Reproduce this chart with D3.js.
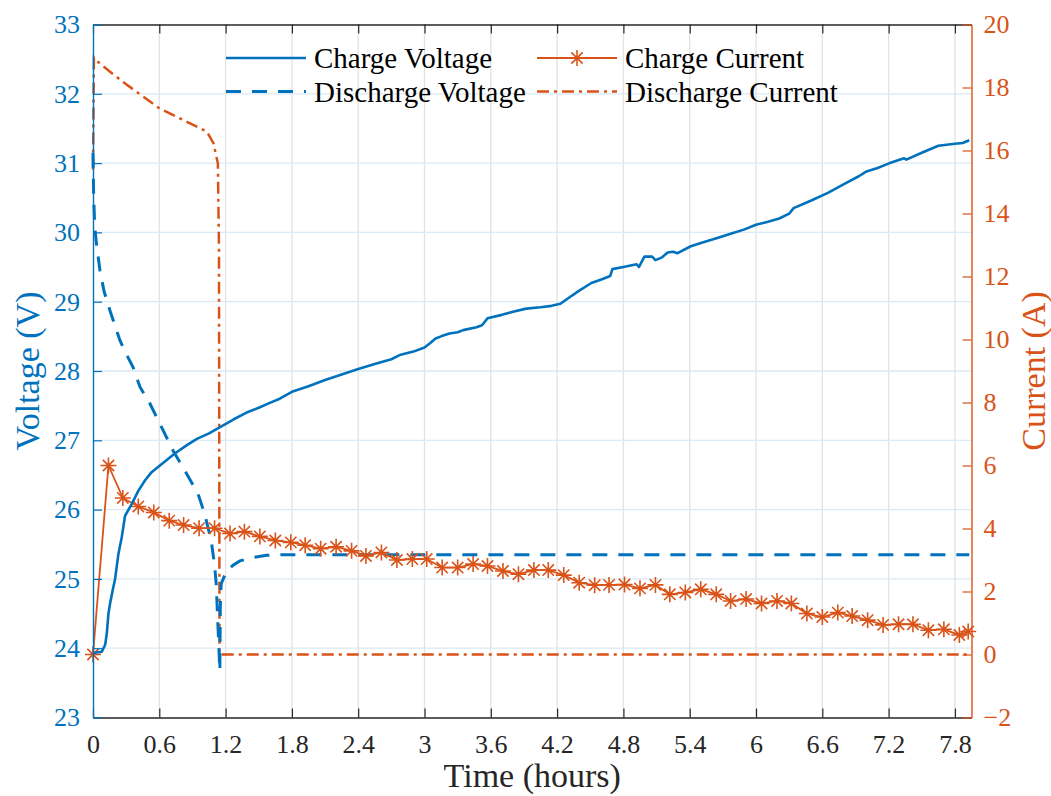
<!DOCTYPE html>
<html>
<head>
<meta charset="utf-8">
<script src="https://cdn.jsdelivr.net/npm/d3@7"></script>
<style>
  body { margin: 0; background: #fff; }
  svg { display: block; }
  svg text { font-family: "Liberation Serif", "DejaVu Serif", serif !important; }
</style>
</head>
<body>
<svg id="chart" width="1051" height="796"></svg>
<script>
// ---- Data -------------------------------------------------------------
// [time (h), voltage (V)]
const chargeVoltage = [
  [0,23.93],[0.08,23.95],[0.11,24.05],[0.124,24.2],[0.14,24.5],[0.154,24.64],[0.18,24.85],
  [0.2,25.0],[0.23,25.36],[0.26,25.6],[0.29,25.91],[0.35,26.08],[0.41,26.27],[0.47,26.42],
  [0.53,26.54],[0.6,26.63],[0.74,26.81],[0.85,26.93],[0.94,27.02],[1.05,27.1],[1.15,27.19],
  [1.27,27.3],[1.39,27.4],[1.5,27.47],[1.6,27.54],[1.69,27.6],[1.8,27.7],[1.95,27.78],
  [2.1,27.87],[2.25,27.95],[2.4,28.03],[2.55,28.1],[2.7,28.17],[2.775,28.23],[2.9,28.28],
  [3.0,28.34],[3.05,28.4],[3.1,28.47],[3.15,28.5],[3.225,28.54],[3.3,28.56],[3.35,28.59],
  [3.47,28.63],[3.52,28.66],[3.57,28.76],[3.7,28.81],[3.81,28.86],[3.92,28.9],[4.05,28.92],
  [4.15,28.94],[4.23,28.97],[4.3,29.05],[4.4,29.16],[4.51,29.27],[4.6,29.32],[4.68,29.37],
  [4.7,29.47],[4.8,29.5],[4.92,29.54],[4.94,29.5],[4.99,29.65],[5.06,29.65],[5.09,29.6],
  [5.15,29.64],[5.2,29.71],[5.25,29.72],[5.29,29.7],[5.41,29.8],[5.53,29.86],[5.65,29.92],
  [5.77,29.98],[5.89,30.04],[6.0,30.11],[6.1,30.15],[6.21,30.2],[6.3,30.27],[6.34,30.35],
  [6.5,30.46],[6.65,30.57],[6.8,30.7],[6.93,30.81],[7.0,30.88],[7.1,30.93],[7.21,31.0],
  [7.34,31.07],[7.36,31.05],[7.5,31.15],[7.65,31.25],[7.8,31.28],[7.87,31.29],[7.93,31.33]
];
const dischargeVoltage = [
  [0,31.15],[0.005,30.6],[0.015,30.1],[0.03,29.85],[0.063,29.45],[0.1,29.15],[0.154,28.87],
  [0.2,28.65],[0.244,28.44],[0.3,28.25],[0.364,28.05],[0.425,27.77],[0.47,27.65],[0.515,27.53],
  [0.62,27.19],[0.725,26.85],[0.78,26.7],[0.846,26.52],[0.95,26.23],[1.01,25.94],[1.07,25.55],
  [1.1,25.2],[1.115,24.93],[1.13,24.35],[1.148,23.67],[1.152,24.6],[1.16,24.93],[1.21,25.12],
  [1.27,25.2],[1.33,25.26],[1.45,25.31],[1.57,25.34],[1.7,25.35],[7.93,25.35]
];
// [time (h), current (A)]
const dischargeCurrent = [
  [0,15.4],[0.008,18.95],[0.05,18.8],[0.154,18.5],[0.3,18.1],[0.455,17.71],[0.6,17.34],
  [0.85,16.91],[1.03,16.6],[1.09,16.23],[1.13,15.59],[1.14,12.9],[1.145,0],[7.93,0]
];
// charge current, sampled times (h) and values (A)
const chargeCurrentTime = [
  0,0.14,0.27,0.41,0.55,0.69,0.82,0.96,1.10,1.24,1.37,1.51,1.65,1.79,1.92,2.06,2.20,2.34,2.47,
  2.61,2.75,2.89,3.02,3.16,3.30,3.44,3.57,3.71,3.85,3.99,4.12,4.26,4.40,4.54,4.67,4.81,4.95,
  5.09,5.22,5.36,5.50,5.64,5.77,5.91,6.05,6.19,6.32,6.46,6.60,6.74,6.87,7.01,7.15,7.29,7.42,
  7.56,7.70,7.84,7.92
];
const chargeCurrent = [
  0.0,6.0,4.97,4.70,4.51,4.25,4.11,4.01,4.01,3.84,3.90,3.75,3.62,3.56,3.47,3.36,3.42,3.29,3.13,
  3.24,3.00,3.03,3.03,2.76,2.76,2.87,2.81,2.65,2.55,2.68,2.68,2.52,2.28,2.20,2.21,2.22,2.10,
  2.21,1.91,1.97,2.07,1.91,1.70,1.76,1.62,1.70,1.62,1.30,1.19,1.33,1.22,1.09,0.94,0.96,0.96,
  0.77,0.80,0.62,0.73
];

const xTicks = [0,0.6,1.2,1.8,2.4,3,3.6,4.2,4.8,5.4,6,6.6,7.2,7.8];
const xTickLabels = ["0","0.6","1.2","1.8","2.4","3","3.6","4.2","4.8","5.4","6","6.6","7.2","7.8"];
const voltTicks = [23,24,25,26,27,28,29,30,31,32,33];
const currTicks = [-2,0,2,4,6,8,10,12,14,16,18,20];
const legendLabels = ["Charge Voltage","Discharge Voltage","Charge Current","Discharge Current"];

// ---- Layout -----------------------------------------------------------
const BLUE = "#0072BD", ORANGE = "#D95319", DARK = "#262626";
const FONT = '"Liberation Serif", "DejaVu Serif", serif';
const DASHDOT = "12,5,3,5";
const L = 93, R = 971.5, T = 24.5, B = 717.5;
const svg = d3.select("#chart");

const x = d3.scaleLinear().domain([0, 7.95]).range([L, R]);
const yV = d3.scaleLinear().domain([23, 33]).range([B, T]);
const yI = d3.scaleLinear().domain([-2, 20]).range([B, T]);

// ---- Grid -------------------------------------------------------------
const grid = svg.append("g");
grid.selectAll("line.vx").data(xTicks.slice(1)).join("line")
  .attr("x1", d => x(d)).attr("x2", d => x(d)).attr("y1", T).attr("y2", B)
  .attr("stroke", "#e2e2e2").attr("stroke-width", 1.3);
grid.selectAll("line.hy").data(voltTicks.slice(1, -1)).join("line")
  .attr("x1", L).attr("x2", R).attr("y1", d => yV(d)).attr("y2", d => yV(d))
  .attr("stroke", "#dae9f5").attr("stroke-width", 1.3);

// ---- Series -----------------------------------------------------------
const lineV = d3.line().x(d => x(d[0])).y(d => yV(d[1]));
const lineI = d3.line().x(d => x(d[0])).y(d => yI(d[1]));

svg.append("path").datum(dischargeCurrent).attr("d", lineI)
  .attr("fill", "none").attr("stroke", ORANGE).attr("stroke-width", 2.5)
  .attr("stroke-dasharray", DASHDOT);

svg.append("path").datum(dischargeVoltage).attr("d", lineV)
  .attr("fill", "none").attr("stroke", BLUE).attr("stroke-width", 3)
  .attr("stroke-dasharray", "15,11");

const ccPts = chargeCurrentTime.map((t, i) => [t, chargeCurrent[i]]);
svg.append("path").datum(ccPts).attr("d", lineI)
  .attr("fill", "none").attr("stroke", ORANGE).attr("stroke-width", 1.8);

const star = r => {
  const a = r * 0.7071;
  return `M${-r},0L${r},0M0,${-r}L0,${r}M${-a},${-a}L${a},${a}M${-a},${a}L${a},${-a}`;
};
svg.append("g").selectAll("path").data(ccPts).join("path")
  .attr("transform", d => `translate(${x(d[0])},${yI(d[1])})`)
  .attr("d", star(8)).attr("fill", "none").attr("stroke", ORANGE).attr("stroke-width", 1.6);

svg.append("path").datum(chargeVoltage).attr("d", lineV)
  .attr("fill", "none").attr("stroke", BLUE).attr("stroke-width", 2.6)
  .attr("stroke-linejoin", "round");

// ---- Axes -------------------------------------------------------------
const tickLen = -9;
const gB = svg.append("g").attr("transform", `translate(0,${B})`)
  .call(d3.axisBottom(x).tickValues(xTicks).tickFormat((d, i) => xTickLabels[i])
    .tickSizeInner(tickLen).tickSizeOuter(0).tickPadding(17));
const gT = svg.append("g").attr("transform", `translate(0,${T})`)
  .call(d3.axisTop(x).tickValues(xTicks).tickFormat("")
    .tickSizeInner(tickLen).tickSizeOuter(0));
[gB, gT].forEach(g => {
  g.attr("font-family", FONT);
  g.select(".domain").attr("stroke", DARK).attr("stroke-width", 1.3);
  g.selectAll(".tick line").attr("stroke", DARK).attr("stroke-width", 1.2);
  g.selectAll(".tick text").attr("fill", DARK).attr("font-size", 26);
});

const gL = svg.append("g").attr("transform", `translate(${L},0)`)
  .call(d3.axisLeft(yV).tickValues(voltTicks).tickFormat(d3.format("d"))
    .tickSizeInner(tickLen).tickSizeOuter(0).tickPadding(13));
const gR = svg.append("g").attr("transform", `translate(${R},0)`)
  .call(d3.axisRight(yI).tickValues(currTicks).tickFormat(d3.format("d"))
    .tickSizeInner(tickLen).tickSizeOuter(0).tickPadding(12));
[[gL, BLUE], [gR, ORANGE]].forEach(([g, c]) => {
  g.attr("font-family", FONT);
  g.select(".domain").attr("stroke", c).attr("stroke-width", 1.4);
  g.selectAll(".tick line").attr("stroke", c).attr("stroke-width", 1.2);
  g.selectAll(".tick text").attr("fill", c).attr("font-size", 26);
});

// ---- Axis titles ------------------------------------------------------
svg.append("text").attr("x", (L + R) / 2).attr("y", 787)
  .attr("text-anchor", "middle").attr("font-size", 34).attr("fill", DARK)
  .attr("font-family", FONT).text("Time (hours)");
svg.append("text").attr("transform", `translate(39,${(T + B) / 2}) rotate(-90)`)
  .attr("text-anchor", "middle").attr("font-size", 34).attr("fill", BLUE)
  .attr("font-family", FONT).text("Voltage (V)");
svg.append("text").attr("transform", `translate(1045,${(T + B) / 2}) rotate(-90)`)
  .attr("text-anchor", "middle").attr("font-size", 34).attr("fill", ORANGE)
  .attr("font-family", FONT).text("Current (A)");

// ---- Legend -----------------------------------------------------------
const legendItems = [
  { label: legendLabels[0], x0: 226, x1: 306, y: 58, color: BLUE, width: 2.6, dash: null, marker: false },
  { label: legendLabels[1], x0: 226, x1: 306, y: 91.5, color: BLUE, width: 3, dash: "15,11", marker: false },
  { label: legendLabels[2], x0: 537, x1: 617, y: 58, color: ORANGE, width: 1.8, dash: null, marker: true },
  { label: legendLabels[3], x0: 537, x1: 617, y: 91.5, color: ORANGE, width: 2.5, dash: DASHDOT, marker: false }
];
const lg = svg.append("g").selectAll("g").data(legendItems).join("g");
lg.append("line").attr("x1", d => d.x0).attr("x2", d => d.x1)
  .attr("y1", d => d.y).attr("y2", d => d.y)
  .attr("stroke", d => d.color).attr("stroke-width", d => d.width)
  .attr("stroke-dasharray", d => d.dash);
lg.filter(d => d.marker).append("path")
  .attr("transform", d => `translate(${(d.x0 + d.x1) / 2},${d.y})`)
  .attr("d", star(8)).attr("fill", "none").attr("stroke", d => d.color).attr("stroke-width", 1.6);
lg.append("text").attr("x", d => d.x1 + 8).attr("y", d => d.y + 10)
  .attr("font-size", 29).attr("fill", "#000").attr("font-family", FONT).text(d => d.label);
</script>
</body>
</html>
